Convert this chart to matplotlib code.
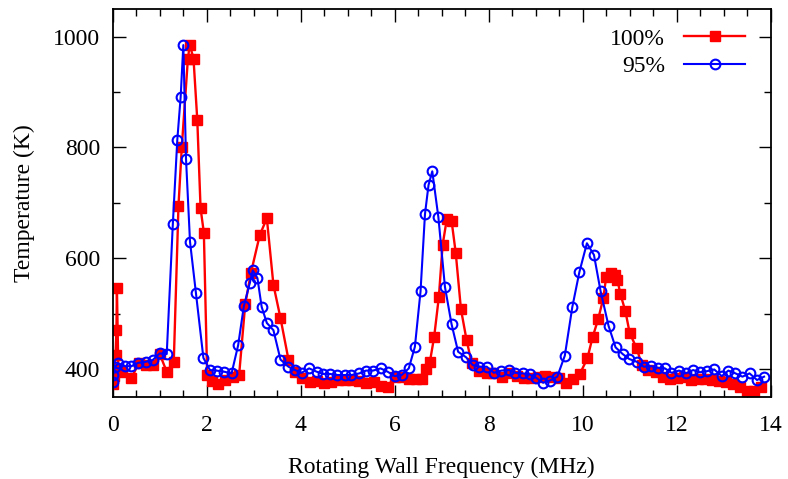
import numpy as np
import matplotlib.pyplot as plt
from matplotlib.ticker import MultipleLocator

plt.rcParams['font.family'] = ['Liberation Serif', 'DejaVu Serif']
plt.rcParams['font.size'] = 17

# 100% series
freq_100 = [0, 0.03, 0.06, 0.08, 0.09, 0.12, 0.2, 0.4, 0.55, 0.7, 0.85, 1.0, 1.15, 1.3,
            1.4, 1.47, 1.6, 1.64, 1.72, 1.8, 1.87, 1.94, 2.01, 2.12, 2.25, 2.4, 2.55, 2.69,
            2.82, 2.94, 3.13, 3.28, 3.42, 3.57, 3.74, 3.88, 4.02, 4.2, 4.35, 4.5, 4.65, 4.8,
            4.95, 5.1, 5.25, 5.4, 5.55, 5.7, 5.85, 6.0, 6.15, 6.3, 6.45, 6.58, 6.67, 6.75,
            6.84, 6.94, 7.02, 7.11, 7.21, 7.3, 7.41, 7.53, 7.64, 7.8, 7.96, 8.1, 8.28, 8.43,
            8.6, 8.75, 8.9, 9.05, 9.2, 9.35, 9.5, 9.65, 9.79, 9.94, 10.1, 10.21, 10.33, 10.44,
            10.5, 10.6, 10.68, 10.74, 10.8, 10.91, 11.0, 11.15, 11.26, 11.4, 11.55, 11.7,
            11.85, 12.0, 12.15, 12.3, 12.45, 12.6, 12.75, 12.9, 13.05, 13.2, 13.35, 13.5,
            13.65, 13.8]
temp_100 = [372, 388, 425, 470, 547, 400, 395, 383, 410, 408, 407, 427, 395, 413,
            695, 800, 960, 986, 960, 850, 690, 646, 389, 378, 373, 380, 386, 389,
            517, 573, 642, 672, 552, 492, 417, 395, 383, 377, 378, 375, 377, 380,
            380, 380, 378, 374, 377, 369, 368, 386, 386, 381, 381, 381, 399, 413,
            458, 530, 624, 671, 668, 609, 508, 452, 410, 396, 392, 392, 386, 392,
            388, 384, 383, 385, 387, 386, 383, 375, 381, 391, 419, 457, 490, 528,
            566, 574, 570, 561, 536, 504, 465, 437, 407, 398, 395, 386,
            382, 383, 385, 380, 381, 381, 380, 378, 376, 372, 367, 361,
            360, 368]

# 95% series
freq_95 = [0, 0.01, 0.05, 0.12, 0.26, 0.4, 0.545, 0.71, 0.85, 1.0, 1.15, 1.28, 1.375,
           1.446, 1.503, 1.56, 1.645, 1.77, 1.93, 2.07, 2.21, 2.37, 2.53, 2.67, 2.79,
           2.92, 2.98, 3.08, 3.17, 3.28, 3.42, 3.57, 3.74, 3.88, 4.02, 4.18, 4.34, 4.48,
           4.62, 4.78, 4.94, 5.08, 5.25, 5.39, 5.54, 5.7, 5.85, 6.0, 6.15, 6.3, 6.43,
           6.55, 6.645, 6.72, 6.8, 6.93, 7.07, 7.21, 7.35, 7.52, 7.66, 7.8, 7.96, 8.11,
           8.27, 8.43, 8.57, 8.72, 8.87, 9.01, 9.16, 9.3, 9.46, 9.62, 9.78, 9.93, 10.09,
           10.24, 10.38, 10.55, 10.7, 10.85, 10.99, 11.15, 11.3, 11.46, 11.6, 11.75,
           11.89, 12.05, 12.2, 12.35, 12.49, 12.65, 12.8, 12.96, 13.1, 13.25, 13.4,
           13.55, 13.71, 13.86]
temp_95 = [377, 389, 404, 410, 405, 405, 411, 413, 416, 428, 427, 662, 814,
           891, 985, 780, 630, 538, 420, 398, 397, 395, 392, 443, 513,
           556, 578, 564, 512, 483, 470, 417, 404, 398, 393, 401, 395, 391,
           391, 389, 389, 389, 392, 397, 397, 401, 395, 387, 389, 401, 440,
           540, 680, 732, 757, 674, 548, 481, 431, 421, 407, 404, 404, 393,
           397, 398, 393, 392, 390, 384, 375, 379, 386, 424, 512, 575, 627,
           606, 541, 478, 439, 427, 418, 413, 404, 405, 402, 401,
           393, 397, 392, 398, 394, 396, 399, 387, 397, 392, 386,
           392, 380, 386]

fig, ax = plt.subplots(figsize=(7.88, 4.79), dpi=100)
fig.subplots_adjust(left=0.143, right=0.978, bottom=0.172, top=0.981)

ax.plot(freq_100, temp_100, c="#ff0000", lw=1.7, marker="s", ms=7.5,
        label="100%")
ax.plot(freq_95, temp_95, c="#0000ff", lw=1.5, marker="o", ms=7,
        mfc="none", mew=1.5, label="95%")

ax.set_xlim(0, 14)
ax.set_ylim(350, 1050)
ax.xaxis.set_major_locator(MultipleLocator(2))
ax.xaxis.set_minor_locator(MultipleLocator(0.5))
ax.yaxis.set_major_locator(MultipleLocator(200))
ax.yaxis.set_minor_locator(MultipleLocator(100))
ax.tick_params(which="both", direction="in", top=True, right=True, width=1)
ax.tick_params(which="major", length=9, pad=9)
ax.tick_params(axis="x", which="major", pad=13)
ax.tick_params(which="minor", length=5)
for s in ax.spines.values():
    s.set_linewidth(1.3)

ax.set_xlabel("Rotating Wall Frequency (MHz)", labelpad=15)
ax.set_ylabel("Temperature (K)", labelpad=13)

ax.legend(loc="upper right", frameon=False, markerfirst=False, numpoints=1,
          handlelength=2.6, borderaxespad=0.4, labelspacing=0.25,
          bbox_to_anchor=(0.99, 1.0))

plt.savefig("out.png")
